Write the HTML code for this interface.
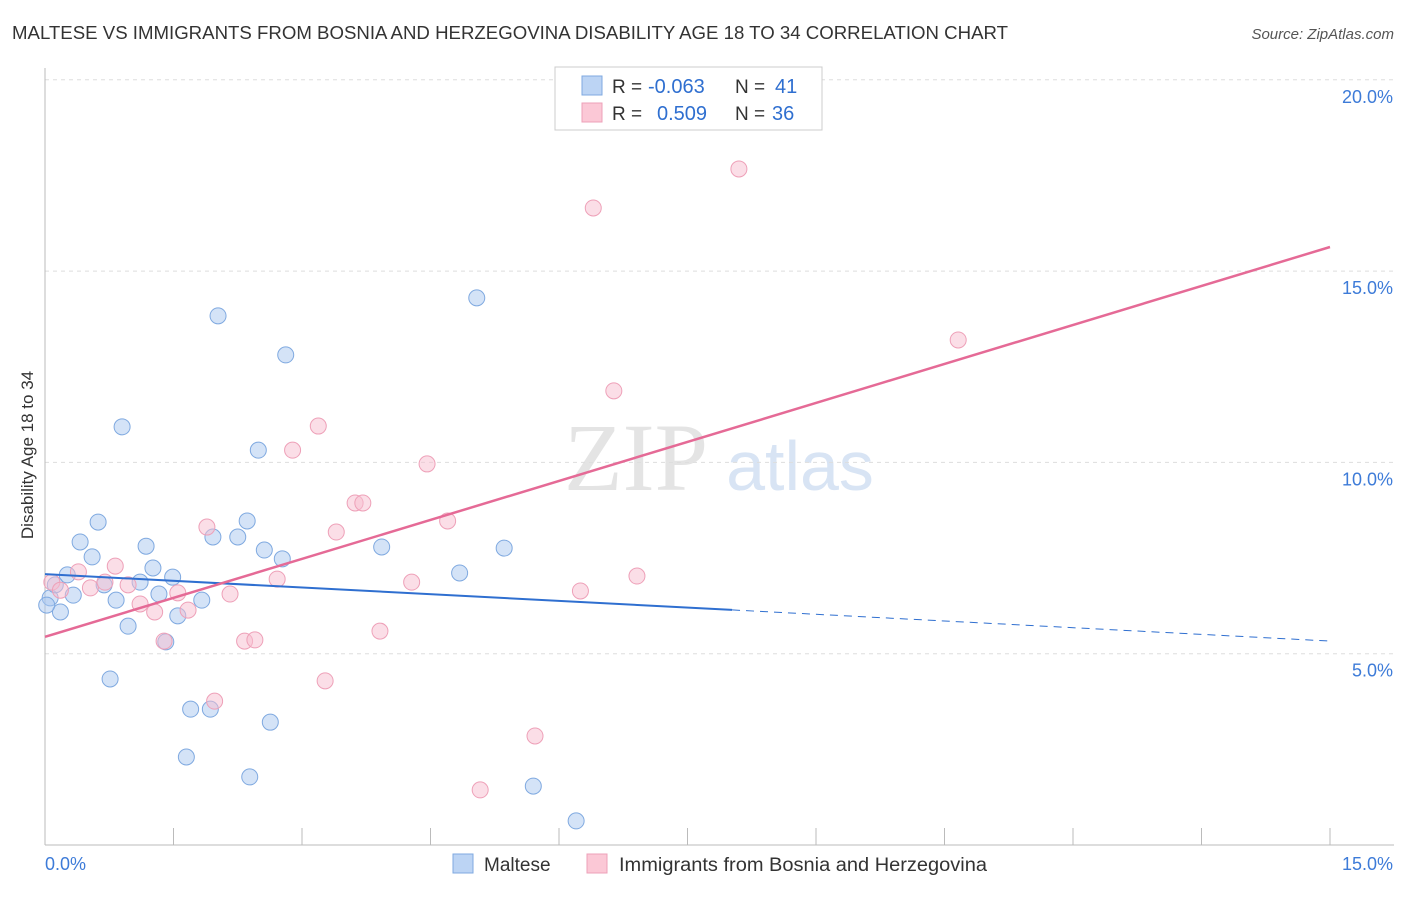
<!DOCTYPE html>
<html><head><meta charset="utf-8"><style>
body{margin:0;background:#fff;font-family:"Liberation Sans",sans-serif;}
</style></head><body>
<svg width="1406" height="892" xmlns="http://www.w3.org/2000/svg">
<text x="12" y="39" font-size="18" fill="#333" textLength="996" lengthAdjust="spacingAndGlyphs">MALTESE VS IMMIGRANTS FROM BOSNIA AND HERZEGOVINA DISABILITY AGE 18 TO 34 CORRELATION CHART</text>
<text x="1394" y="39" font-size="15" fill="#555" text-anchor="end" font-style="italic">Source: ZipAtlas.com</text>
<text x="636" y="490" font-size="96" fill="#e4e4e4" font-family="Liberation Serif,serif" text-anchor="middle">ZIP</text>
<text x="800" y="490" font-size="70" fill="#d8e4f4" text-anchor="middle">atlas</text>
<g id="grid"></g>
<g id="axes"></g>
<g id="marks"></g>
<text transform="translate(33,455) rotate(-90)" font-size="17" fill="#333" text-anchor="middle">Disability Age 18 to 34</text>
<g>
<rect x="555" y="67" width="267" height="63" fill="#fff" stroke="#ccc"/>
<rect x="582" y="76" width="20" height="19" fill="#bcd4f4" stroke="#7fa9e0"/>
<rect x="582" y="103" width="20" height="19" fill="#fbc8d6" stroke="#eea0b8"/>
<text x="612" y="93" font-size="19" fill="#333">R =</text>
<text x="648" y="93" font-size="20" fill="#2f6fd0">-0.063</text>
<text x="735" y="93" font-size="19" fill="#333">N =</text>
<text x="775" y="93" font-size="20" fill="#2f6fd0">41</text>
<text x="612" y="120" font-size="19" fill="#333">R =</text>
<text x="657" y="120" font-size="20" fill="#2f6fd0">0.509</text>
<text x="735" y="120" font-size="19" fill="#333">N =</text>
<text x="772" y="120" font-size="20" fill="#2f6fd0">36</text>
</g>
<g>
<rect x="453" y="854" width="20" height="19" fill="#bcd4f4" stroke="#7fa9e0"/>
<text x="484" y="871" font-size="19" fill="#333">Maltese</text>
<rect x="587" y="854" width="20" height="19" fill="#fbc8d6" stroke="#eea0b8"/>
<text x="619" y="871" font-size="19" fill="#333" textLength="368" lengthAdjust="spacingAndGlyphs">Immigrants from Bosnia and Herzegovina</text>
</g>
</svg>
<script>
const blueX=[0.06,0.18,0.26,0.33,0.41,0.55,0.62,0.76,0.83,0.69,0.90,0.97,1.11,1.18,1.26,1.33,1.41,1.49,1.55,1.70,1.65,1.83,1.93,1.96,2.02,2.25,2.36,2.39,2.49,2.56,2.63,2.77,2.81,3.93,4.84,5.04,5.36,5.70,6.20,0.12,0.02];
const blueY=[6.46,6.09,7.06,6.53,7.92,7.53,8.44,4.34,6.40,6.80,10.93,5.72,6.87,7.81,7.24,6.56,5.31,7.00,5.99,3.55,2.30,6.40,3.55,8.05,13.83,8.05,8.47,1.78,10.32,7.71,3.21,7.48,12.81,7.79,7.11,14.30,7.76,1.54,0.63,6.80,6.27];
const pinkX=[0.08,0.18,0.39,0.53,0.70,0.82,0.97,1.11,1.28,1.39,1.55,1.67,1.89,1.98,2.16,2.33,2.45,2.71,2.89,3.19,3.27,3.40,3.62,3.71,3.91,4.28,4.46,4.70,5.08,5.72,6.25,6.40,6.64,6.91,8.10,10.66];
const pinkY=[6.87,6.66,7.14,6.72,6.87,7.29,6.80,6.30,6.09,5.33,6.59,6.14,8.31,3.76,6.56,5.33,5.36,6.95,10.32,10.95,4.29,8.18,8.94,8.94,5.59,6.87,9.96,8.47,1.44,2.85,6.64,16.65,11.87,7.03,17.67,13.20];
const yTicks=[5,10,15,20];
const yTickLabels=["5.0%","10.0%","15.0%","20.0%"];
const xTicks=[0,1.5,3,4.5,6,7.5,9,10.5,12,13.5,15];
const blueTrend=[7.08,5.33], blueSolidEnd=8.02;
const pinkTrend=[5.44,15.63];
const NS="http://www.w3.org/2000/svg";
const sx=v=>45+v/15*1285, sy=v=>845-v/5*191.3;
function mk(p,t,a){const e=document.createElementNS(NS,t);for(const k in a)e.setAttribute(k,a[k]);p.appendChild(e);return e;}
const grid=document.getElementById('grid'),axes=document.getElementById('axes'),marks=document.getElementById('marks');
yTicks.forEach((t,i)=>{
 const l=mk(grid,'line',{x1:45,x2:1394,y1:sy(t),y2:sy(t),stroke:'#ddd','stroke-dasharray':'4,4'});
 
 
 const tx=mk(axes,'text',{x:1393,y:sy(t)+23,'font-size':18,fill:'#3d7bd8','text-anchor':'end'});
 tx.textContent=yTickLabels[i];
 
 
});
const ax=mk(axes,'line',{x1:45,x2:1394,y1:845,y2:845,stroke:'#bbb'});


const ay=mk(axes,'line',{x1:45,x2:45,y1:68,y2:845,stroke:'#bbb'});


xTicks.forEach(t=>{
 const l=mk(axes,'line',{x1:sx(t),x2:sx(t),y1:828,y2:845,stroke:'#bbb'});
 
 
});
[[0,"0.0%","start",45],[15,"15.0%","end",1393]].forEach(d=>{
 const tx=mk(axes,'text',{x:d[3],y:870,'font-size':18,fill:'#3d7bd8','text-anchor':d[2]});
 tx.textContent=d[1];
 
 
});
blueX.forEach((x,i)=>{
 const c=mk(marks,'circle',{cx:sx(x),cy:sy(blueY[i]),r:8,fill:'rgba(170,200,240,0.5)',stroke:'#7fa9e0','stroke-width':1});
 
 
});
pinkX.forEach((x,i)=>{
 const c=mk(marks,'circle',{cx:sx(x),cy:sy(pinkY[i]),r:8,fill:'rgba(248,190,208,0.5)',stroke:'#eea0b8','stroke-width':1});
 
 
});
const by=x=>blueTrend[0]+(blueTrend[1]-blueTrend[0])*x/15;
const b1=mk(marks,'line',{x1:sx(0),y1:sy(by(0)),x2:sx(blueSolidEnd),y2:sy(by(blueSolidEnd)),stroke:'#2f6fd0','stroke-width':2});


const b2=mk(marks,'line',{x1:sx(blueSolidEnd),y1:sy(by(blueSolidEnd)),x2:sx(15),y2:sy(by(15)),stroke:'#2f6fd0','stroke-width':1,'stroke-dasharray':'8,6'});


const p1=mk(marks,'line',{x1:sx(0),y1:sy(pinkTrend[0]),x2:sx(15),y2:sy(pinkTrend[1]),stroke:'#e56a96','stroke-width':2.5});


</script>
</body></html>
